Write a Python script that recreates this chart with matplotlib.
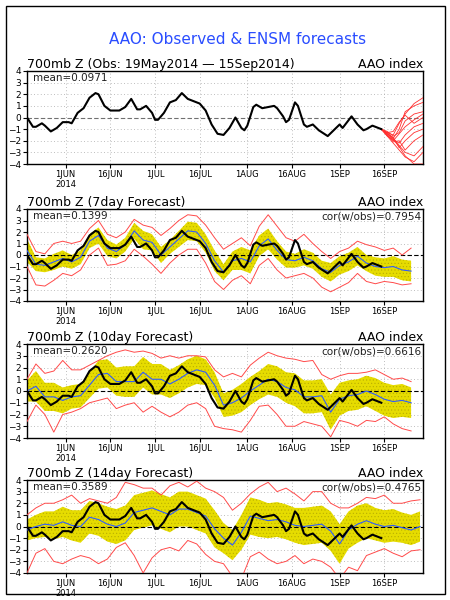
import datetime as dt
import matplotlib
matplotlib.use('Agg')
import matplotlib.pyplot as plt
import matplotlib.dates as mdates
from matplotlib.patches import Rectangle
import numpy as np

# ----------------------
# data
# ----------------------
start = dt.datetime(2014, 5, 19)

# observed AAO index, day offsets from 19May2014
obs_days = [0, 2, 3, 5, 6, 8, 10, 12, 14, 15, 17, 19, 21, 23, 24, 26, 28, 31, 33, 35,
            37, 38, 40, 42, 43, 44, 46, 48, 50, 52, 54, 56, 58, 60, 62, 64, 66, 68, 70, 72,
            73, 74, 76, 77, 79, 81, 83, 84, 86, 87, 88, 90, 91, 93, 94, 96, 98, 101, 103, 105,
            106, 109, 111, 113, 114, 116, 118, 119]
obs_vals = [0.0, -0.8, -0.8, -0.5, -0.7, -1.2, -0.9, -0.4, -0.4, -0.5, 0.4, 0.8, 1.7, 2.1, 2.0, 1.0, 0.6, 0.6, 0.9, 1.6,
            0.7, 0.7, 1.0, 0.4, -0.2, -0.2, 0.4, 1.3, 1.5, 2.1, 1.6, 1.4, 1.2, 0.6, -0.6, -1.4, -1.5, -0.9, 0.0, -0.9,
            -1.1, -0.7, 0.9, 1.1, 0.8, 0.9, 1.0, 0.8, 0.1, -0.4, -0.2, 1.3, 1.0, -0.6, -0.8, -0.6, -1.1, -1.6, -1.1, -0.6,
            -0.9, 0.1, -0.6, -1.1, -1.0, -0.7, -0.9, -1.0]

# ensemble members of the latest forecast (top panel, red)
ens_days = [119, 121, 123, 125, 127, 130, 133]
ens_members = [
    [-1.0, -1.3, -1.5, -0.5, 0.3, 1.2, 1.7],
    [-1.0, -1.4, -1.8, -1.0, 0.5, 1.0, 1.3],
    [-1.0, -1.2, -1.6, -1.3, -0.3, 0.3, 0.5],
    [-1.0, -1.5, -2.0, -1.4, -0.8, -0.2, 0.3],
    [-1.0, -1.3, -1.2, -0.4, 0.2, -0.5, 0.0],
    [-1.0, -1.6, -1.9, -2.2, -1.5, -0.8, -0.5],
    [-1.0, -1.4, -1.7, -2.6, -2.0, -1.3, -1.0],
    [-1.0, -1.5, -2.1, -2.0, -2.8, -2.0, -1.5],
    [-1.0, -1.3, -1.8, -2.4, -3.0, -3.3, -2.5],
    [-1.0, -1.6, -2.2, -2.8, -3.4, -3.8, -3.0],
    [-1.0, -1.4, -1.9, -2.5, -3.3, -4.0, -4.0],
]

# forecast panels, sampled every 3 days
fc_days = list(range(0, 133, 3))

f7_mean = [0.4, -0.8, -0.9, -0.6, -0.3, -0.6, -0.2, 1.2, 1.7, 0.6,
           0.3, 0.9, 2.1, 1.3, 1.1, 0.0, 0.7, 1.4, 2.1, 2.0,
           1.0, -0.5, -1.5, -0.5, -0.3, -0.6, 0.8, 1.4, 0.4, -0.4,
           -0.5, -0.2, -0.5, -1.2, -1.5, -0.9, -0.6, -0.1, -0.7, -1.0,
           -1.1, -1.0, -1.3, -1.4]
f7_spread = [1.0, 0.6, 0.6, 0.7, 0.7, 0.6, 0.6, 0.6, 0.7, 0.7,
             0.6, 0.6, 0.7, 0.8, 0.7, 0.7, 0.6, 0.7, 0.8, 0.8,
             0.8, 0.9, 0.7, 0.8, 1.0, 1.0, 0.9, 0.9, 0.8, 0.7,
             0.6, 0.7, 0.7, 0.7, 0.8, 0.8, 0.8, 0.8, 0.7, 0.8,
             0.8, 0.9, 0.9, 0.9]
f7_max = [1.8, 0.3, 0.1, 1.0, 1.2, 1.0, 1.2, 2.3, 3.0, 1.8,
          1.5, 2.0, 3.1, 2.6, 2.4, 1.7, 2.3, 3.0, 3.5, 3.4,
          2.6, 1.5, 0.5, 1.0, 1.5, 0.8, 2.5, 3.5, 2.5, 1.5,
          1.2, 1.8, 1.0, 0.3, -0.3, 0.3, 0.6, 1.2, 0.9, 0.7,
          0.4, 0.6, 0.0, 0.6]
f7_min = [-1.0, -2.6, -2.7, -2.2, -1.6, -1.8, -1.3, 0.0, 0.6, -0.9,
          -0.8, -0.5, 0.5, -0.1, -0.8, -1.6, -0.7, 0.0, 0.5, 0.5,
          -0.7, -2.3, -3.0, -2.2, -1.8, -2.5, -0.9, -0.3, -1.3, -2.0,
          -1.8, -1.6, -2.0, -2.8, -3.2, -2.8, -2.4, -1.6, -2.3, -2.5,
          -2.3, -2.4, -2.6, -2.5]

f10_mean = [0.0, 0.4, -0.5, -0.5, -0.8, -0.5, -0.4, 0.5, 1.4, 1.5,
            0.8, 0.8, 0.8, 1.6, 1.0, 1.0, 0.6, 1.0, 1.5, 1.8,
            1.6, 0.5, -1.2, -1.0, -0.6, 0.0, 0.5, 1.0, 0.8, 0.3,
            0.1, -0.5, -0.5, -0.4, -1.8, -0.7, -0.4, -0.3, 0.0, -0.3,
            -0.7, -0.9, -0.8, -1.0]
f10_spread = [0.9, 1.3, 1.2, 1.2, 1.1, 1.0, 1.0, 1.1, 1.2, 1.2,
              1.2, 1.3, 1.3, 1.3, 1.3, 1.3, 1.2, 1.2, 1.2, 1.2,
              1.1, 1.1, 1.0, 1.1, 1.2, 1.2, 1.2, 1.3, 1.3, 1.3,
              1.4, 1.4, 1.4, 1.4, 1.5, 1.4, 1.3, 1.3, 1.3, 1.4,
              1.4, 1.4, 1.4, 1.3]
f10_max = [1.0, 2.3, 1.5, 1.7, 2.6, 1.8, 1.8, 2.2, 2.6, 3.0,
           3.3, 3.5, 3.3, 3.4, 3.2, 2.8, 3.0, 2.8, 3.0, 3.0,
           2.9, 1.8, 1.2, 1.5, 1.2, 2.2, 2.8, 3.3, 3.0, 2.8,
           2.7, 2.5, 2.6, 1.4, 1.0, 1.3, 1.5, 1.5, 1.6, 1.8,
           1.4, 1.0, 1.1, 0.8]
f10_min = [-2.6, -1.2, -2.0, -3.5, -2.0, -1.8, -1.5, -1.0, -0.8, -0.6,
           -1.5, -1.2, -1.0, -1.8, -1.3, -1.8, -2.2, -1.8, -1.2, -1.0,
           -1.5, -3.0, -3.2, -3.3, -3.5, -2.5, -1.3, -1.2, -2.0, -3.0,
           -3.0, -2.6, -2.8, -3.0, -3.9, -2.5, -2.7, -3.0, -2.5, -2.6,
           -2.2, -2.8, -3.2, -3.4]

f14_mean = [-0.3, 0.0, 0.2, 0.1, 0.4, 0.1, 0.0, 0.8, 0.6, 0.2,
            0.0, 0.3, 1.2, 1.4, 1.6, 1.3, 1.0, 1.5, 1.5, 1.2,
            0.9, -0.2, -1.0, -1.6, -0.5, 0.9, 0.7, 0.5, 0.6, 0.4,
            0.1, 0.0, 0.1, 0.2, -0.4, -1.5, -0.3, 0.2, 0.5, 0.2,
            0.0, 0.1, -0.1, -0.3, 0.0]
f14_spread = [0.9, 1.0, 1.1, 1.2, 1.3, 1.3, 1.4, 1.4, 1.4, 1.5,
              1.5, 1.5, 1.5, 1.5, 1.5, 1.5, 1.5, 1.5, 1.5, 1.5,
              1.5, 1.6, 1.3, 1.3, 1.5, 1.6, 1.6, 1.5, 1.5, 1.5,
              1.5, 1.6, 1.6, 1.6, 1.7, 1.7, 1.6, 1.6, 1.5, 1.4,
              1.4, 1.4, 1.3, 1.3, 1.3]
f14_max = [1.0, 1.6, 2.0, 2.0, 2.3, 2.7, 2.0, 2.4, 2.2, 2.0,
           2.5, 3.8, 3.6, 3.3, 3.3, 2.7, 3.5, 3.8, 3.4, 3.9,
           3.3, 3.0, 2.5, 1.4, 2.0, 2.8, 3.4, 3.8, 3.0, 3.3,
           2.8, 2.2, 3.0, 3.0, 2.0, 1.6, 1.6, 2.0, 2.5, 2.4,
           2.7, 2.0, 2.0, 2.2, 2.3]
f14_min = [-4.0, -2.3, -1.9, -3.0, -3.2, -2.8, -2.5, -2.7, -3.2, -2.8,
           -1.8, -1.4, -2.5, -4.0, -2.7, -2.0, -1.8, -2.1, -1.2, -1.5,
           -2.4, -3.0, -3.2, -4.3, -4.5, -2.6, -2.2, -2.8, -3.2, -3.0,
           -2.5, -3.2, -2.8, -3.0, -3.5, -4.5, -3.5, -3.8, -2.5, -2.2,
           -1.9, -2.3, -2.6, -2.1, -2.0]

panel_titles = ["700mb Z (Obs: 19May2014 \u2014 15Sep2014)",
                "700mb Z (7day Forecast)",
                "700mb Z (10day Forecast)",
                "700mb Z (14day Forecast)"]
mean_labels = ["mean=0.0971", "mean=0.1399", "mean=0.2620", "mean=0.3589"]
cor_labels = [None, "cor(w/obs)=0.7954", "cor(w/obs)=0.6616", "cor(w/obs)=0.4765"]

tick_dates = [dt.datetime(2014, 6, 1), dt.datetime(2014, 6, 16), dt.datetime(2014, 7, 1),
              dt.datetime(2014, 7, 16), dt.datetime(2014, 8, 1), dt.datetime(2014, 8, 16),
              dt.datetime(2014, 9, 1), dt.datetime(2014, 9, 16)]
tick_labels = ["1JUN\n2014", "16JUN", "1JUL", "16JUL", "1AUG", "16AUG", "1SEP", "16SEP"]


def to_dates(days):
    return [start + dt.timedelta(days=d) for d in days]


# ----------------------
# figure
# ----------------------
W, H = 450, 600
fig = plt.figure(figsize=(4.5, 6), dpi=100)
fig.patches.append(Rectangle((6 / W, 6 / H), 439 / W, 588 / H, transform=fig.transFigure,
                             fill=False, edgecolor='black', linewidth=1))
fig.text(0.527, 0.934, "AAO: Observed & ENSM forecasts", color='#2a4dff',
         fontsize=11, ha='center', va='center')

# axes boxes in pixels: (top, bottom)
boxes = [(71, 164), (209, 301), (344, 438), (480, 573)]
forecasts = [None,
             (f7_mean, f7_spread, f7_max, f7_min),
             (f10_mean, f10_spread, f10_max, f10_min),
             (f14_mean, f14_spread, f14_max, f14_min)]

plt.rcParams['hatch.linewidth'] = 0.4

for i, (top, bot) in enumerate(boxes):
    ax = fig.add_axes([27 / W, 1 - bot / H, 396 / W, (bot - top) / H])

    # grid + zero line
    for y in range(-3, 4):
        if y != 0:
            ax.axhline(y, color='#a8a8a8', lw=0.6, ls=(0, (1, 3)), zorder=1)
    for d in tick_dates:
        ax.axvline(d, color='#a8a8a8', lw=0.6, ls=(0, (1, 3)), zorder=1)
    ax.axhline(0, color='#707070' if i == 0 else 'black', lw=0.8, ls=(0, (4, 2)), zorder=3)

    fc = forecasts[i]
    if fc is not None:
        mean, spread, fmax, fmin = [np.array(a) for a in fc]
        d = to_dates(fc_days[:len(mean)])
        ax.fill_between(d, mean - spread, mean + spread, facecolor='#e6dc00',
                        edgecolor='#b8ae00', hatch='.....', linewidth=0, zorder=2)
        ax.plot(d, fmax, color='#ff4a4a', lw=0.7, zorder=4)
        ax.plot(d, fmin, color='#ff4a4a', lw=0.7, zorder=4)
        ax.plot(d, mean, color='#2f5cff', lw=0.8, zorder=5)
    else:
        for m in ens_members:
            ax.plot(to_dates(ens_days), m, color='#ff3030', lw=0.6, zorder=4)

    ax.plot(to_dates(obs_days), obs_vals, color='black', lw=1.5, zorder=6)

    ax.set_xlim(start, start + dt.timedelta(days=133))
    ax.set_ylim(-4, 4)
    ax.set_yticks(range(-4, 5))
    ax.set_xticks(tick_dates)
    ax.set_xticklabels(tick_labels)
    ax.tick_params(axis='x', labelsize=6, length=3, pad=1)
    ax.tick_params(axis='y', labelsize=6.5, length=3, pad=1)
    for s in ax.spines.values():
        s.set_linewidth(1.0)

    ax.set_title(panel_titles[i], loc='left', fontsize=9, pad=2)
    ax.set_title("AAO index", loc='right', fontsize=9, pad=2)
    ax.text(0.015, 0.975, mean_labels[i], transform=ax.transAxes, fontsize=7.5,
            ha='left', va='top', color='#202020', zorder=7)
    if cor_labels[i]:
        ax.text(0.995, 0.975, cor_labels[i], transform=ax.transAxes, fontsize=7.5,
                ha='right', va='top', color='#202020', zorder=7)

fig.savefig("out.png", dpi=100)
